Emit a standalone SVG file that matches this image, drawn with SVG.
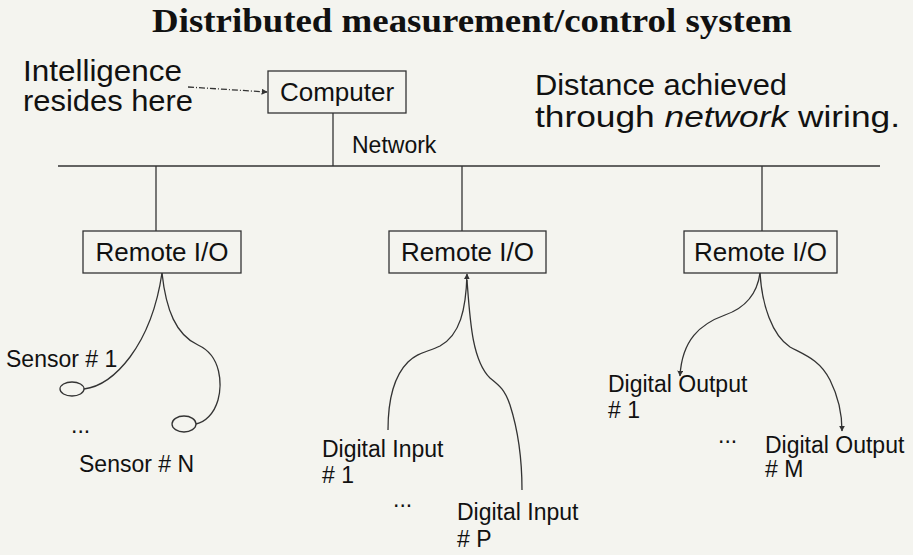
<svg xmlns="http://www.w3.org/2000/svg" width="913" height="555" viewBox="0 0 913 555">
<style>
.bg{fill:#f4f4ef}
.box{fill:none;stroke:#333;stroke-width:1.3}
.ln{fill:none;stroke:#333;stroke-width:1.3}
.t{font-family:"Liberation Sans",Arial,sans-serif;fill:#111}
.big{font-size:29px}
.mid{font-size:26px}
.sm{font-size:23px}
.title{font-family:"Liberation Serif","Times New Roman",serif;font-weight:bold;font-size:34px;fill:#111}
</style>
<defs>
<marker id="ah" viewBox="0 0 10 10" refX="9" refY="5" markerWidth="6" markerHeight="6" orient="auto" markerUnits="userSpaceOnUse">
<path d="M0,0 L10,5 L0,10 z" fill="#333"/>
</marker>
</defs>
<rect class="bg" x="0" y="0" width="913" height="555"/>
<text class="title" x="152" y="32" textLength="640" lengthAdjust="spacingAndGlyphs">Distributed measurement/control system</text>
<g id="note-intelligence">
<text class="t big" x="23" y="81" textLength="159" lengthAdjust="spacingAndGlyphs">Intelligence</text>
<text class="t big" x="23" y="111" textLength="170" lengthAdjust="spacingAndGlyphs">resides here</text>
</g>
<g id="note-distance">
<text class="t big" x="535" y="95" textLength="252" lengthAdjust="spacingAndGlyphs">Distance achieved</text>
<text class="t big" x="535" y="127" textLength="365" lengthAdjust="spacingAndGlyphs">through <tspan font-style="italic">network</tspan> wiring.</text>
</g>
<g id="computer">
<rect class="box" x="268" y="71" width="138" height="42"/>
<text class="t mid" x="337" y="101" text-anchor="middle">Computer</text>
</g>
<g id="network">
<text class="t sm" x="352" y="153">Network</text>
</g>
<g id="rio1">
<rect class="box" x="83" y="231" width="158" height="42"/>
<text class="t mid" x="162" y="261" text-anchor="middle">Remote I/O</text>
</g>
<g id="rio2">
<rect class="box" x="389" y="231" width="157" height="42"/>
<text class="t mid" x="467.5" y="261" text-anchor="middle">Remote I/O</text>
</g>
<g id="rio3">
<rect class="box" x="684" y="231" width="153" height="42"/>
<text class="t mid" x="760.5" y="261" text-anchor="middle">Remote I/O</text>
</g>
<g id="sensor1">
<ellipse class="ln" cx="72" cy="389" rx="12" ry="7"/>
<text class="t sm" x="6" y="367">Sensor # 1</text>
</g>
<g id="sensorN">
<ellipse class="ln" cx="184" cy="424" rx="12" ry="8"/>
<text class="t sm" x="79" y="472">Sensor # N</text>
</g>
<text class="t sm" x="71" y="433">...</text>
<g id="din1">
<text class="t sm" x="322" y="457">Digital Input</text>
<text class="t sm" x="322" y="483"># 1</text>
</g>
<text class="t sm" x="393" y="507">...</text>
<g id="dinP">
<text class="t sm" x="457" y="520">Digital Input</text>
<text class="t sm" x="457" y="547"># P</text>
</g>
<g id="dout1">
<text class="t sm" x="608" y="392">Digital Output</text>
<text class="t sm" x="608" y="418"># 1</text>
</g>
<text class="t sm" x="718" y="443">...</text>
<g id="doutM">
<text class="t sm" x="765" y="453">Digital Output</text>
<text class="t sm" x="765" y="477"># M</text>
</g>
<g id="connectors">
<path class="ln" d="M188,87 L267,92" stroke="#666" stroke-dasharray="6,2,1,2" marker-end="url(#ah)"/>
<line class="ln" x1="58" y1="166" x2="880" y2="166"/>
<line class="ln" x1="333" y1="113" x2="333" y2="166"/>
<line class="ln" x1="156" y1="166" x2="156" y2="231"/>
<line class="ln" x1="462" y1="166" x2="462" y2="231"/>
<line class="ln" x1="762" y1="166" x2="762" y2="231"/>
<path class="ln" d="M162,273 C158,300 150,330 130,357 C115,377 100,387 84,389"/>
<path class="ln" d="M162,273 C166,310 176,335 198,345 C222,356 222,385 218,400 C214,414 205,422 196,424"/>
<path class="ln" d="M388,430 C388,400 394,376 408,362 C418,352 428,352 440,346 C460,335 466,310 467,274" marker-end="url(#ah)"/>
<path class="ln" d="M522,490 C522,460 518,430 510,405 C505,390 500,386 490,378 C472,360 470,320 467,280"/>
<path class="ln" d="M760,273 C757,295 745,308 725,315 C700,324 682,340 680,376" marker-end="url(#ah)"/>
<path class="ln" d="M760,273 C762,305 772,335 790,347 C805,355 820,360 830,380 C838,396 842,415 842,431" marker-end="url(#ah)"/>
</g>
</svg>
